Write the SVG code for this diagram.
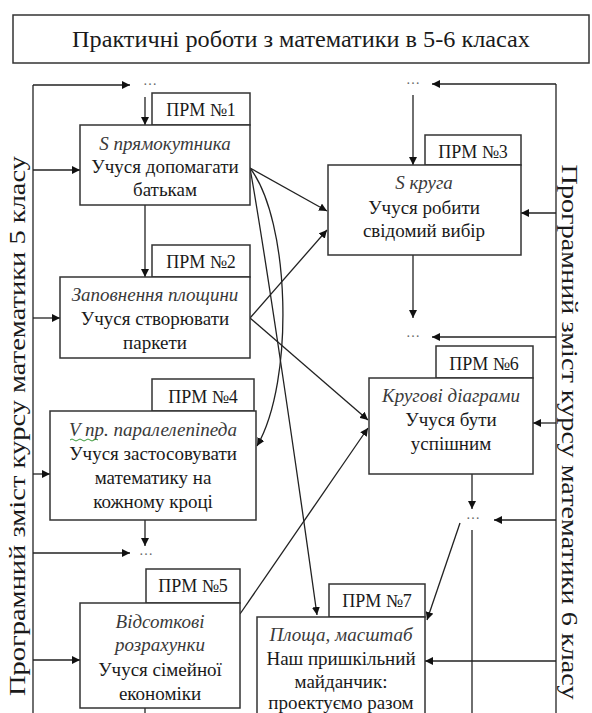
<svg xmlns="http://www.w3.org/2000/svg" width="592" height="713" viewBox="0 0 592 713">
<style>
.bx{fill:#fff;stroke:#333;stroke-width:1.5}
.ln{fill:none;stroke:#222;stroke-width:1.3}
.ar{marker-end:url(#ah)}
.t{font-family:'Liberation Serif','DejaVu Serif',serif;font-size:19px;fill:#1a1a1a;text-anchor:middle}
.p{font-size:18px}
.i{font-style:italic;fill:#3a3a3a}
.d{font-family:'Liberation Serif','DejaVu Serif',serif;font-size:14px;fill:#666;text-anchor:middle}
.lab{font-family:'Liberation Serif','DejaVu Serif',serif;font-size:23px;fill:#1a1a1a;text-anchor:middle}
</style>
<defs>
<marker id="ah" viewBox="0 0 10 10" refX="10" refY="5" markerWidth="8" markerHeight="8" markerUnits="userSpaceOnUse" orient="auto">
<path d="M0,0 L10,5 L0,10 z" fill="#111"/>
</marker>
</defs>
<rect width="592" height="713" fill="#fff"/>

<g id="title">
<rect x="13" y="15" width="576" height="48" class="bx"/>
<text x="301" y="47" class="t" style="font-size:24px" textLength="458" lengthAdjust="spacingAndGlyphs">Практичні роботи з математики в 5-6 класах</text>
</g>

<g id="label5">
<text class="lab" transform="translate(25,426) rotate(-90)" textLength="540" lengthAdjust="spacingAndGlyphs">Програмний зміст курсу математики 5 класу</text>
</g>
<g id="label6">
<text class="lab" transform="translate(562,432) rotate(90)" textLength="535" lengthAdjust="spacingAndGlyphs">Програмний зміст курсу математики 6 класу</text>
</g>

<g id="connectors">
<path class="ln" d="M33,85 V713"/>
<path class="ln" d="M556,84 V713"/>
<path class="ln ar" d="M33,85 H130"/>
<path class="ln ar" d="M145,97 V125"/>
<path class="ln ar" d="M556,84 H432"/>
<path class="ln ar" d="M413,95 V165"/>
<path class="ln ar" d="M33,170 H80"/>
<path class="ln ar" d="M145,205 V277"/>
<path class="ln ar" d="M33,318 H60"/>
<path class="ln ar" d="M33,474 H50"/>
<path class="ln ar" d="M145,520 V546"/>
<path class="ln ar" d="M33,553 H130"/>
<path class="ln ar" d="M33,660 H80"/>
<path class="ln" d="M145,708 V713"/>
<path class="ln ar" d="M556,213 H521"/>
<path class="ln ar" d="M413,255 V318"/>
<path class="ln ar" d="M556,337 H432"/>
<path class="ln ar" d="M556,423 H533"/>
<path class="ln ar" d="M472,474 V509"/>
<path class="ln ar" d="M556,520 H494"/>
<path class="ln ar" d="M460,523 L427,620"/>
<path class="ln" d="M472,530 V713"/>
<path class="ln ar" d="M556,661 H425"/>
<path class="ln ar" d="M250,168 L327,211"/>
<path class="ln ar" d="M250,168 C262,235 290,420 317,615"/>
<path class="ln ar" d="M250,168 C290,220 295,380 257,446"/>
<path class="ln ar" d="M250,318 L327,230"/>
<path class="ln ar" d="M250,318 L368,420"/>
<path class="ln ar" d="M240,614 L368,428"/>
</g>

<g id="dots">
<text class="d" x="150" y="85">…</text>
<text class="d" x="413" y="84">…</text>
<text class="d" x="146" y="555">…</text>
<text class="d" x="413" y="337">…</text>
<text class="d" x="473" y="519">…</text>
</g>

<g id="node1">
<rect x="152" y="93" width="98" height="32" class="bx"/>
<text x="201" y="116" class="t p">ПРМ №1</text>
<rect x="80" y="125" width="170" height="80" class="bx"/>
<text x="165" y="150" class="t i">S прямокутника</text>
<text x="165" y="173" class="t">Учуся допомагати</text>
<text x="165" y="196" class="t">батькам</text>
</g>

<g id="node2">
<rect x="152" y="245" width="98" height="32" class="bx"/>
<text x="201" y="268" class="t p">ПРМ №2</text>
<rect x="60" y="277" width="190" height="81" class="bx"/>
<text x="155" y="301" class="t i">Заповнення площини</text>
<text x="155" y="325" class="t">Учуся створювати</text>
<text x="155" y="349" class="t">паркети</text>
</g>

<g id="node4">
<rect x="152" y="379" width="102" height="32" class="bx"/>
<text x="203" y="403" class="t p">ПРМ №4</text>
<rect x="50" y="411" width="206" height="109" class="bx"/>
<text x="153" y="436" class="t i">V пр. паралелепіпеда</text>
<path d="M70,440 q2,-2 4,0 t4,0 t4,0 t4,0 t4,0 t4,0 t4,0" fill="none" stroke="#3a9a3a" stroke-width="1"/>
<text x="153" y="460" class="t">Учуся застосовувати</text>
<text x="153" y="484" class="t">математику на</text>
<text x="153" y="508" class="t">кожному кроці</text>
</g>

<g id="node5">
<rect x="146" y="569" width="94" height="34" class="bx"/>
<text x="193" y="592" class="t p">ПРМ №5</text>
<rect x="80" y="603" width="160" height="105" class="bx"/>
<text x="160" y="628" class="t i">Відсоткові</text>
<text x="160" y="651" class="t i">розрахунки</text>
<text x="160" y="676" class="t">Учуся сімейної</text>
<text x="160" y="700" class="t">економіки</text>
</g>

<g id="node3">
<rect x="425" y="135" width="96" height="30" class="bx"/>
<text x="473" y="158" class="t p">ПРМ №3</text>
<rect x="328" y="165" width="193" height="90" class="bx"/>
<text x="424" y="189" class="t i">S круга</text>
<text x="424" y="214" class="t">Учуся робити</text>
<text x="424" y="237" class="t">свідомий вибір</text>
</g>

<g id="node6">
<rect x="436" y="346" width="97" height="32" class="bx"/>
<text x="484" y="370" class="t p">ПРМ №6</text>
<rect x="369" y="378" width="164" height="96" class="bx"/>
<text x="451" y="402" class="t i">Кругові діаграми</text>
<text x="451" y="426" class="t">Учуся бути</text>
<text x="451" y="450" class="t">успішним</text>
</g>

<g id="node7">
<rect x="329" y="584" width="96" height="33" class="bx"/>
<text x="377" y="607" class="t p">ПРМ №7</text>
<rect x="257" y="617" width="168" height="110" class="bx"/>
<text x="341" y="641" class="t i">Площа, масштаб</text>
<text x="341" y="665" class="t">Наш пришкільний</text>
<text x="341" y="688" class="t">майданчик:</text>
<text x="341" y="709" class="t">проектуємо разом</text>
</g>
</svg>
